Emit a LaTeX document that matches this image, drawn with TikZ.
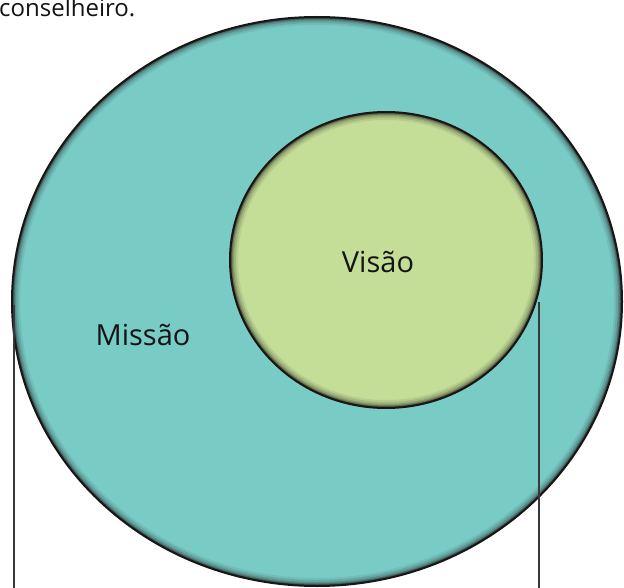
\documentclass[tikz,border=0pt]{standalone}
\usepackage{fontspec}
\setmainfont{Open Sans}
\definecolor{tealfill}{RGB}{121,204,198}
\definecolor{greenfill}{RGB}{196,222,152}
\definecolor{rimcol}{RGB}{25,22,20}
\definecolor{linecol}{RGB}{55,55,60}
\definecolor{txtcol}{RGB}{20,20,20}
\tikzset{
  rim/.style={draw=rimcol, line width=2pt},
  leader/.style={draw=linecol, line width=1.6pt},
  lbl/.style={text=txtcol, inner sep=0pt, font=\fontsize{29}{34}\selectfont},
}
\newcommand{\glowell}[4]{%
  \begin{scope}
    \clip (#1,#2) ellipse [x radius=#3pt, y radius=#4pt];
    \foreach \w/\o in {16/0.08, 12/0.12, 8/0.18, 5/0.28, 3/0.4} {
      \draw[rimcol, line width=\w pt, opacity=\o] (#1,#2) ellipse [x radius=#3pt, y radius=#4pt];
    }
  \end{scope}
  \draw[rim] (#1,#2) ellipse [x radius=#3pt, y radius=#4pt];
}
\begin{document}
\begin{tikzpicture}[x=1pt, y=-1pt]
\useasboundingbox (0,0) rectangle (624,588);
\fill[white] (0,0) rectangle (624,588);
% outer circle (Missao)
\fill[tealfill] (317,301.5) ellipse [x radius=305pt, y radius=284.5pt];
\glowell{317}{301.5}{305}{284.5}
% inner circle (Visao)
\fill[greenfill] (386,260) ellipse [x radius=156pt, y radius=148pt];
\glowell{386}{260}{156}{148}
% texts
\node[lbl] (visao) at (378,262) {Visão};
\node[lbl] (missao) at (143,335) {Missão};
\node[text=txtcol, inner sep=0pt, anchor=base west, font=\fontsize{24}{28}\selectfont] (cons) at (-1,17) {conselheiro.};
% leader lines
\coordinate (l1top) at (14,305);
\coordinate (l1bot) at (14,588);
\coordinate (l2top) at (539,302);
\coordinate (l2bot) at (539,588);
\draw[leader] (l1top) -- (l1bot);
\draw[leader] (l2top) -- (l2bot);
\end{tikzpicture}
\end{document}
